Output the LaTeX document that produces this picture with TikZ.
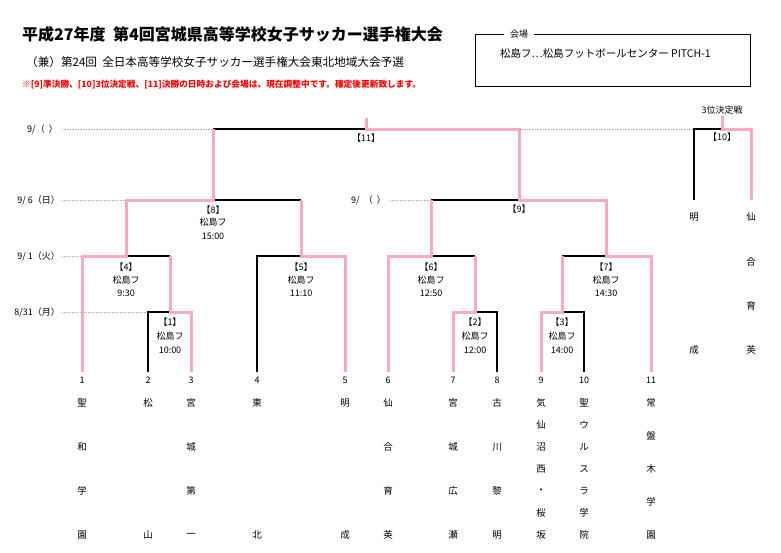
\documentclass[tikz,border=0pt]{standalone}
\usepackage{fontspec}
\setmainfont{Noto Sans CJK JP}
\definecolor{pk}{HTML}{F8A8C8}
\definecolor{rd}{HTML}{FF0000}
\begin{document}
\begin{tikzpicture}[x=1pt,y=-1pt,
  pkl/.style={draw=pk,line width=3pt},
  bkl/.style={draw=black,line width=1.2pt},
  dotl/.style={draw=gray!60,densely dotted,line width=0.6pt},
  t/.style={font=\fontsize{9}{10}\selectfont,inner sep=0pt},
  nm/.style={font=\fontsize{9.5}{10}\selectfont,inner sep=0pt}]
\useasboundingbox (0,0) rectangle (781,552);
% titles
\node[anchor=west,inner sep=0pt,font=\fontsize{16}{18}\selectfont\bfseries] (title) at (22,34) {平成27年度\ \ 第4回宮城県高等学校女子サッカー選手権大会};
\node[anchor=west,inner sep=0pt,font=\fontsize{11.6}{13}\selectfont] (sub) at (26,62) {（兼）第24回\ \ 全日本高等学校女子サッカー選手権大会東北地域大会予選};
\node[anchor=west,inner sep=0pt,text=rd,font=\fontsize{8.7}{9}\selectfont\bfseries] (note) at (22,85) {※[9]準決勝、[10]3位決定戦、[11]決勝の日時および会場は、現在調整中です。確定後更新致します。};
% venue box
\draw[line width=0.9pt] (475,34) rectangle (750,86);
\node[t,fill=white,inner xsep=6pt,inner ysep=2pt] (venue) at (519,34) {会場};
\node[anchor=west,inner sep=0pt,font=\fontsize{10.5}{11}\selectfont] (venuetxt) at (500,53) {松島フ…松島フットボールセンター\ PITCH-1};
% date labels & dotted lines
\node[t,anchor=east] (d1) at (58,129) {9/（\ \ ）};
\node[t,anchor=east] (d2) at (60,200) {9/ 6（日）};
\node[t,anchor=east] (d3) at (60,256) {9/ 1（火）};
\node[t,anchor=east] (d4) at (60,312) {8/31（月）};
\node[t,anchor=east] (d5) at (386,200) {9/\ \ （\ \ ）};
\draw[dotl] (62,129) -- (213,129);
\draw[dotl] (519,129) -- (694,129);
\draw[dotl] (62,200) -- (126,200);
\draw[dotl] (62,256) -- (82,256);
\draw[dotl] (62,312) -- (148,312);
\draw[dotl] (390,200) -- (431,200);
% black lines
\draw[bkl] (148,372) -- (148,312) -- (170,312);
\draw[bkl] (126,256) -- (170,256);
\draw[bkl] (257,372) -- (257,256) -- (301,256);
\draw[bkl] (213,200) -- (301,200);
\draw[bkl] (213,129) -- (366,129);
\draw[bkl] (366,118) -- (366,129);
\draw[bkl] (475,312) -- (497,312) -- (497,372);
\draw[bkl] (431,256) -- (475,256);
\draw[bkl] (562,312) -- (584,312) -- (584,372);
\draw[bkl] (562,256) -- (606,256);
\draw[bkl] (431,200) -- (519,200);
\draw[bkl] (694,200) -- (694,129) -- (722,129);
% pink lines
\draw[pkl] (191,372) -- (191,312) -- (170,312) -- (170,256);
\draw[pkl] (82,372) -- (82,256) -- (126,256) -- (126,200) -- (213,200) -- (213,129);
\draw[pkl] (345,372) -- (345,256) -- (301,256) -- (301,200);
\draw[pkl] (366,118) -- (366,129) -- (519,129) -- (519,200) -- (606,200) -- (606,256) -- (651,256) -- (651,372);
\draw[pkl] (453,372) -- (453,312) -- (475,312) -- (475,256);
\draw[pkl] (388,372) -- (388,256) -- (431,256) -- (431,200);
\draw[pkl] (541,372) -- (541,312) -- (562,312) -- (562,256);
\draw[pkl] (751,200) -- (751,129) -- (722,129) -- (722,116);
% match labels
\node[t] (m1) at (170,322) {【1】};\node[t] (m1v) at (170,336) {松島フ};\node[t] (m1t) at (170,350) {10:00};
\node[t] (m4) at (126,267) {【4】};\node[t] (m4v) at (126,280) {松島フ};\node[t] (m4t) at (126,293) {9:30};
\node[t] (m5) at (301,267) {【5】};\node[t] (m5v) at (301,280) {松島フ};\node[t] (m5t) at (301,293) {11:10};
\node[t] (m8) at (213,210) {【8】};\node[t] (m8v) at (213,222) {松島フ};\node[t] (m8t) at (213,236) {15:00};
\node[t] (m2) at (475,322) {【2】};\node[t] (m2v) at (475,336) {松島フ};\node[t] (m2t) at (475,350) {12:00};
\node[t] (m6) at (431,267) {【6】};\node[t] (m6v) at (431,280) {松島フ};\node[t] (m6t) at (431,293) {12:50};
\node[t] (m3) at (562,322) {【3】};\node[t] (m3v) at (562,336) {松島フ};\node[t] (m3t) at (562,350) {14:00};
\node[t] (m7) at (606,267) {【7】};\node[t] (m7v) at (606,280) {松島フ};\node[t] (m7t) at (606,293) {14:30};
\node[t] (m9) at (519,209) {【9】};
\node[t] (m11) at (366,138) {【11】};
\node[t] (m10) at (722,137) {【10】};
\node[t] (third) at (722,110) {3位決定戦};
% 3rd place names
\node[nm] (a1) at (694,217) {明};\node[nm] (a2) at (694,350) {成};
\node[nm] (b1) at (751,217) {仙};\node[nm] (b2) at (751,262) {合};\node[nm] (b3) at (751,306) {育};\node[nm] (b4) at (751,350) {英};
% team numbers and names
\foreach \x/\n in {82/1,148/2,191/3,257/4,345/5,388/6,453/7,497/8,541/9,584/10,651/11}
  \node[t] (n\n) at (\x,380) {\n};
\def\four#1#2#3#4#5{\node[nm] at (#1,403) {#2};\node[nm] at (#1,447) {#3};\node[nm] at (#1,491) {#4};\node[nm] at (#1,535) {#5};}
\def\two#1#2#3{\node[nm] at (#1,403) {#2};\node[nm] at (#1,535) {#3};}
\four{82}{聖}{和}{学}{園}
\two{148}{松}{山}
\four{191}{宮}{城}{第}{一}
\two{257}{東}{北}
\two{345}{明}{成}
\four{388}{仙}{合}{育}{英}
\four{453}{宮}{城}{広}{瀬}
\four{497}{古}{川}{黎}{明}
\foreach \c [count=\i from 0] in {気,仙,沼,西,・,桜,坂} \node[nm] at (541,403+22*\i) {\c};
\foreach \c [count=\i from 0] in {聖,ウ,ル,ス,ラ,学,院} \node[nm] at (584,403+22*\i) {\c};
\foreach \c [count=\i from 0] in {常,盤,木,学,園} \node[nm] at (651,403+33*\i) {\c};
\end{tikzpicture}
\end{document}
